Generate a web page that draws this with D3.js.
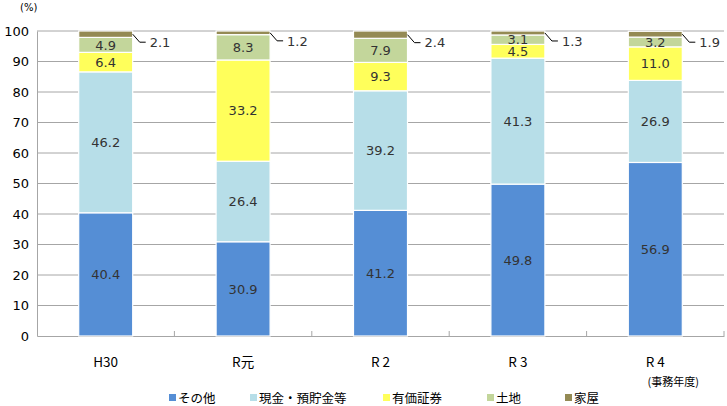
<!DOCTYPE html>
<html><head><meta charset="utf-8">
<script src="https://cdn.jsdelivr.net/npm/d3@7"></script>
<style>body{margin:0;background:#fff}svg{display:block}</style>
</head><body>
<script>
const categories = ["H30", "R元", "R 2", "R 3", "R 4"];
const seriesNames = ["その他", "現金・預貯金等", "有価証券", "土地", "家屋"];
const sonota = [40.4, 30.9, 41.2, 49.8, 56.9];
const genkin = [46.2, 26.4, 39.2, 41.3, 26.9];
const yuka = [6.4, 33.2, 9.3, 4.5, 11.0];
const tochi = [4.9, 8.3, 7.9, 3.1, 3.2];
const kaoku = [2.1, 1.2, 2.4, 1.3, 1.9];
const yTicks = [0, 10, 20, 30, 40, 50, 60, 70, 80, 90, 100];
const colors = ["#558ED5", "#B7DEE8", "#FFFF5B", "#C3D69B", "#948A54"];

(function () {
const series = [sonota, genkin, yuka, tochi, kaoku];
const W = 727, H = 406;
const m = {l: 37, r: 3, t: 31, b: 70};
const svg = d3.select("body").append("svg").attr("width", W).attr("height", H);

const x = d3.scaleBand().domain(categories).range([m.l, W - m.r]).paddingInner(0.607).paddingOuter(0.3035);
const xb = d3.scaleBand().domain(categories).range([m.l, W - m.r]);
const y = d3.scaleLinear().domain([0, 100]).range([336, 31]);

svg.append("g").selectAll("line").data(yTicks.filter(d => d > 0)).join("line")
  .attr("x1", m.l).attr("x2", W - m.r).attr("y1", d => y(d)).attr("y2", d => y(d))
  .attr("stroke", "#A6A6A6").attr("stroke-width", 1);

const yAxis = d3.axisLeft(y).tickValues(yTicks).tickSize(0).tickPadding(8);
const ga = svg.append("g").attr("transform", `translate(${m.l},0)`).call(yAxis);
ga.select(".domain").attr("stroke", "#A6A6A6");
ga.selectAll("text").attr("font-family", "DejaVu Sans, Verdana, sans-serif").attr("font-size", 13).attr("fill", "#000");

const xAxis = d3.axisBottom(xb).tickSize(0).tickPadding(21);
const gx = svg.append("g").attr("transform", `translate(0,${y(0)})`).call(xAxis);
gx.select(".domain").attr("stroke", "#A6A6A6");
gx.selectAll("text").attr("font-family", "Noto Sans CJK JP, sans-serif").attr("font-size", 13.5).attr("fill", "#000");
svg.append("g").selectAll("line").data(categories).join("line")
  .attr("x1", (d, i) => m.l + xb.step() * (i + 1)).attr("x2", (d, i) => m.l + xb.step() * (i + 1))
  .attr("y1", y(0)).attr("y2", y(0) - 5).attr("stroke", "#A6A6A6");

const rows = categories.map((c, i) => {
  const o = {cat: c};
  seriesNames.forEach((s, j) => o[s] = series[j][i]);
  return o;
});
const stack = d3.stack().keys(seriesNames)(rows);

const g = svg.append("g");
stack.forEach((layer, j) => {
  g.append("g").selectAll("rect").data(layer).join("rect")
    .attr("x", d => x(d.data.cat)).attr("width", x.bandwidth())
    .attr("y", d => y(d[1])).attr("height", d => y(d[0]) - y(d[1]))
    .attr("fill", colors[j]).attr("stroke", "#fff").attr("stroke-width", 1.2);
});

const font = "DejaVu Sans, Verdana, sans-serif";
stack.slice(0, 4).forEach((layer, j) => {
  g.append("g").selectAll("text").data(layer).join("text")
    .attr("x", d => x(d.data.cat) + x.bandwidth() / 2)
    .attr("y", d => (y(d[0]) + y(d[1])) / 2)
    .attr("dy", "0.36em").attr("text-anchor", "middle")
    .attr("font-family", font).attr("font-size", 13).attr("fill", "#333")
    .text(d => (d[1] - d[0]).toFixed(1));
});
const topLayer = stack[4];
topLayer.forEach(d => {
  const x0 = x(d.data.cat) + x.bandwidth();
  const y0 = (y(d[0]) + y(d[1])) / 2;
  svg.append("path").attr("d", `M${x0},${y0} L${x0 + 7},${y0 + 8} L${x0 + 13},${y0 + 8}`)
    .attr("fill", "none").attr("stroke", "#000").attr("stroke-width", 1);
  svg.append("text").attr("x", x0 + 17).attr("y", y0 + 8).attr("dy", "0.36em")
    .attr("font-family", font).attr("font-size", 13).attr("fill", "#333")
    .text((d[1] - d[0]).toFixed(1));
});

svg.append("text").attr("x", 20).attr("y", 11).attr("font-family", font).attr("font-size", 10).attr("fill", "#000").text("(%)");
svg.append("text").attr("x", xb(categories[4]) + xb.bandwidth() / 2 + 18).attr("y", 386).attr("text-anchor", "middle")
  .attr("font-family", "Noto Sans CJK JP, sans-serif").attr("font-size", 11).attr("fill", "#000").text("(事務年度)");

const legX = [169, 250, 383, 487, 565];
const leg = svg.append("g");
seriesNames.forEach((s, i) => {
  leg.append("rect").attr("x", legX[i]).attr("y", 394).attr("width", 7).attr("height", 7).attr("fill", colors[i]);
  leg.append("text").attr("x", legX[i] + 9).attr("y", 398).attr("dy", "0.36em")
    .attr("font-family", "Noto Sans CJK JP, sans-serif").attr("font-size", 12.5).attr("fill", "#000").text(s);
});
})();
</script>
</body></html>
